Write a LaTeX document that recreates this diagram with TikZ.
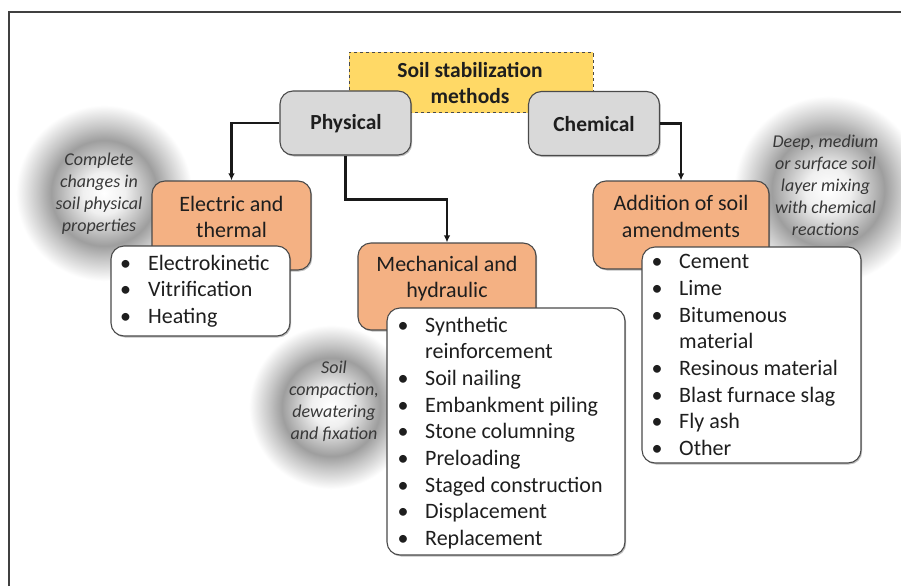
\documentclass[tikz,border=0pt]{standalone}
\usepackage{fontspec}
\setmainfont{Carlito}
\usetikzlibrary{arrows.meta,shadows}
\definecolor{boxgray}{HTML}{D9D9D9}
\definecolor{boxorange}{HTML}{F4B183}
\definecolor{boxyellow}{HTML}{FFD966}
\definecolor{edgegray}{HTML}{4A4A4A}
\definecolor{inkc}{HTML}{1E1E1E}
\pgfdeclareradialshading{halo}{\pgfpoint{0bp}{0bp}}{color(0bp)=(white); color(6bp)=(black!6); color(15bp)=(black!38); color(19bp)=(black!22); color(25bp)=(white); color(50bp)=(white)}
\tikzset{
  softshadow/.style={drop shadow={shadow xshift=1.2pt,shadow yshift=-1.5pt,opacity=0.25,fill=black}},
  titlebox/.style={draw=edgegray, dashed, line width=0.9pt, fill=boxyellow, minimum width=244pt, minimum height=60pt, inner sep=0pt},
  graybox/.style={draw=edgegray, line width=1.1pt, fill=boxgray, rounded corners=13pt, minimum width=131pt, minimum height=64pt, inner sep=0pt, softshadow},
  orangebox/.style={draw=edgegray, line width=1.1pt, fill=boxorange, rounded corners=13pt, inner sep=0pt, softshadow},
  listbox/.style={draw=edgegray, line width=1.1pt, fill=white, rounded corners=13pt, inner sep=0pt, softshadow},
  boldtxt/.style={font=\fontsize{21.5}{26}\selectfont\bfseries, text=inkc, align=center, inner sep=0pt},
  orangetxt/.style={font=\fontsize{22}{26.5}\selectfont, text=inkc, align=center, inner sep=0pt},
  itemtxt/.style={font=\fontsize{22}{26.7}\selectfont, text=inkc, inner sep=0pt, anchor=base west},
  bullettxt/.style={font=\fontsize{22}{26.7}\selectfont, text=inkc, inner sep=0pt, anchor=base},
  notetxt/.style={font=\fontsize{18}{22}\selectfont\itshape, text=black!78, align=center, inner sep=0pt},
  conn/.style={draw=black!90, line width=2.2pt, -{Latex[length=7pt,width=6.5pt]}},
}
\begin{document}
\begin{tikzpicture}[x=1pt,y=-1pt]
\useasboundingbox (0,0) rectangle (901,586);
\fill[white] (0,0) rectangle (901,586);
% halos
\shade[shading=halo] (104,193) circle (88);
\shade[shading=halo] (331,407) circle (82);
\shade[shading=halo] (828,190) circle (94);
% frame
\draw[line width=2pt, black!75] (9,586) -- (9,12.5) -- (901,12.5);
% notes
\node[notetxt] (n1) at (99,194) {Complete\\changes in\\soil physical\\properties};
\node[notetxt] (n2) at (334,401.5) {Soil\\compaction,\\dewatering\\and fixation};
\node[notetxt] (n3) at (825.5,185.5) {Deep, medium\\or surface soil\\layer mixing\\with chemical\\reactions};
% title and first level
\node[titlebox] (title) at (471,82.5) {};
\node[boldtxt] (titletxt) at (470,83) {Soil stabilization\\methods};
\node[graybox] (phys) at (345.5,123) {};
\node[boldtxt] (physt) at (346,124) {Physical};
\node[graybox] (chem) at (594,123.5) {};
\node[boldtxt] (chemt) at (594,124) {Chemical};
% second level boxes
\node[orangebox, minimum width=159pt, minimum height=89pt] (elec) at (231.5,225.5) {};
\node[orangetxt] (elect) at (231.5,217) {Electric and\\thermal};
\node[orangebox, minimum width=178pt, minimum height=87pt] (mech) at (447,286.5) {};
\node[orangetxt] (mecht) at (447,278.5) {Mechanical and\\hydraulic};
\node[orangebox, minimum width=176pt, minimum height=88pt] (add) at (681,225) {};
\node[orangetxt] (addt) at (681,216.5) {Addition of soil\\amendments};
% connectors
\draw[conn] (phys.west) -| (elec.north);
\draw[conn] (phys.south) -- ++(0,44) -| (mech.north);
\draw[conn] (chem.east) -| (add.north);
% list boxes
\node[listbox, minimum width=179pt, minimum height=90pt] (l1) at (200.5,291) {};
\foreach \b/\t [count=\i] in {1/Electrokinetic,1/Vitrification,1/Heating}{
  \node[itemtxt] (l1t\i) at (148,{270+(\i-1)*26.7}) {\t};
  \ifnum\b=1 \node[bullettxt] (l1b\i) at (125.5,{270+(\i-1)*26.7}) {\textbullet}; \fi
}
\node[listbox, minimum width=238pt, minimum height=247pt] (l2) at (506,431.5) {};
\foreach \b/\t [count=\i] in {1/Synthetic,0/reinforcement,1/Soil nailing,1/Embankment piling,1/Stone columning,1/Preloading,1/Staged construction,1/Displacement,1/Replacement}{
  \node[itemtxt] (l2t\i) at (425,{332+(\i-1)*26.7}) {\t};
  \ifnum\b=1 \node[bullettxt] (l2b\i) at (403,{332+(\i-1)*26.7}) {\textbullet}; \fi
}
\node[listbox, minimum width=219pt, minimum height=216pt] (l3) at (751.5,355) {};
\foreach \b/\t [count=\i] in {1/Cement,1/Lime,1/Bitumenous,0/material,1/Resinous material,1/Blast furnace slag,1/Fly ash,1/Other}{
  \node[itemtxt] (l3t\i) at (679,{268.7+(\i-1)*26.7}) {\t};
  \ifnum\b=1 \node[bullettxt] (l3b\i) at (657,{268.7+(\i-1)*26.7}) {\textbullet}; \fi
}
\end{tikzpicture}
\end{document}
